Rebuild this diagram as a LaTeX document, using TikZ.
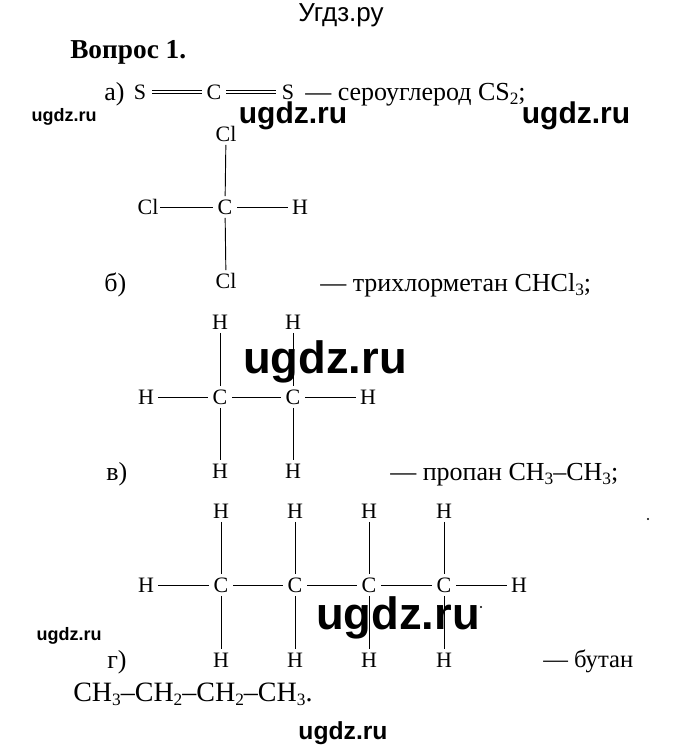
\documentclass[tikz,border=0pt]{standalone}
\usepackage{fontspec}
\setmainfont{Liberation Serif}
\newfontfamily\wmfont{Liberation Sans}
\newcommand{\sbs}[1]{\raisebox{-3.5pt}{\fontsize{13}{13}\selectfont #1}}
\tikzset{
  atom/.style={font=\fontsize{16.5}{18}\selectfont, inner sep=0pt, minimum width=18pt, minimum height=16pt, anchor=center},
  lbl/.style={font=\fontsize{19.5}{22}\selectfont, inner sep=0pt, anchor=base west},
  wm/.style={font=\wmfont\bfseries\fontsize{#1}{#1}\selectfont, inner sep=0pt, anchor=center},
  bond/.style={line width=0.7pt, black},
  speck/.style={circle, fill=black, inner sep=0pt, minimum size=1.6pt},
}
\begin{document}
\begin{tikzpicture}[x=0.75pt,y=-0.75pt]
\useasboundingbox (0,0) rectangle (680,751);
% headings
\node[inner sep=0pt,font=\wmfont\fontsize{19.5}{22}\selectfont] (title) at (341,15) {Угдз.ру};
\node[inner sep=0pt,anchor=base west,font=\bfseries\fontsize{20.5}{24}\selectfont] (head) at (70,58) {Вопрос 1.};
% a) CS2
\node[lbl] (la) at (104,100) {а)};
\node[atom] (s1) at (140,92) {S};
\node[atom] (c0) at (214,92) {C};
\node[atom] (s2) at (288,92) {S};
\node[lbl] (ta) at (305,100) {— сероуглерод CS\sbs{2};};
\draw[bond] ([yshift=1.2pt]s1.east) -- ([yshift=1.2pt]c0.west);
\draw[bond] ([yshift=-1.2pt]s1.east) -- ([yshift=-1.2pt]c0.west);
\draw[bond] ([yshift=1.2pt]c0.east) -- ([yshift=1.2pt]s2.west);
\draw[bond] ([yshift=-1.2pt]c0.east) -- ([yshift=-1.2pt]s2.west);
% b) CHCl3
\node[atom] (bt) at (226,134) {Cl};
\node[atom] (bl) at (148,207) {Cl};
\node[atom] (bc) at (225,207) {C};
\node[atom] (br) at (300,207) {H};
\node[atom] (bb) at (226,281) {Cl};
\node[lbl] (lb) at (104,291) {б)};
\node[lbl] (tb) at (320,291) {— трихлорметан CHCl\sbs{3};};
\draw[bond] (bt) -- (bc);
\draw[bond] (bl) -- (bc);
\draw[bond] (bc) -- (br);
\draw[bond] (bc) -- (bb);
% c) ethane
\foreach \n/\x in {1/220,2/293}{
  \node[atom] (ct\n) at (\x,322) {H};
  \node[atom] (cc\n) at (\x,397) {C};
  \node[atom] (cb\n) at (\x,471) {H};
  \draw[bond] (ct\n) -- (cc\n);
  \draw[bond] (cc\n) -- (cb\n);
}
\node[atom] (cl) at (146,397) {H};
\node[atom] (cr) at (368,397) {H};
\draw[bond] (cl) -- (cc1);
\draw[bond] (cc1) -- (cc2);
\draw[bond] (cc2) -- (cr);
\node[lbl] (lc) at (106,480) {в)};
\node[lbl] (tc) at (390,480) {— пропан CH\sbs{3}–CH\sbs{3};};
% d) butane
\foreach \n/\x in {1/221,2/295,3/369,4/444}{
  \node[atom] (dt\n) at (\x,511) {H};
  \node[atom] (dc\n) at (\x,585) {C};
  \node[atom] (db\n) at (\x,660) {H};
  \draw[bond] (dt\n) -- (dc\n);
  \draw[bond] (dc\n) -- (db\n);
}
\node[atom] (dl) at (146,585) {H};
\node[atom] (dr) at (519,585) {H};
\draw[bond] (dl) -- (dc1);
\draw[bond] (dc1) -- (dc2);
\draw[bond] (dc2) -- (dc3);
\draw[bond] (dc3) -- (dc4);
\draw[bond] (dc4) -- (dr);
\node[lbl] (ld) at (107,668) {г)};
\node[lbl,font=\fontsize{18.5}{22}\selectfont] (td) at (543,667) {— бутан};
\node[lbl,font=\fontsize{21}{24}\selectfont] (fd) at (73,701) {CH\sbs{3}–CH\sbs{2}–CH\sbs{2}–CH\sbs{3}.};
% watermarks
\node[wm=13.5] (w1) at (64,117) {ugdz.ru};
\node[wm=22.5] (w2) at (293,116) {ugdz.ru};
\node[wm=22.5] (w3) at (576,116) {ugdz.ru};
\node[wm=34] (w4) at (325,362) {ugdz.ru};
\node[wm=34] (w5) at (398,618) {ugdz.ru};
\node[wm=13.5] (w6) at (69,636) {ugdz.ru};
\node[inner sep=0pt,font=\wmfont\bfseries\fontsize{18.5}{20}\selectfont] (w7) at (343,733) {ugdz.ru};
% specks
\node[speck] (p1) at (648,519) {};
\node[speck] (p2) at (481,607) {};
\end{tikzpicture}
\end{document}
